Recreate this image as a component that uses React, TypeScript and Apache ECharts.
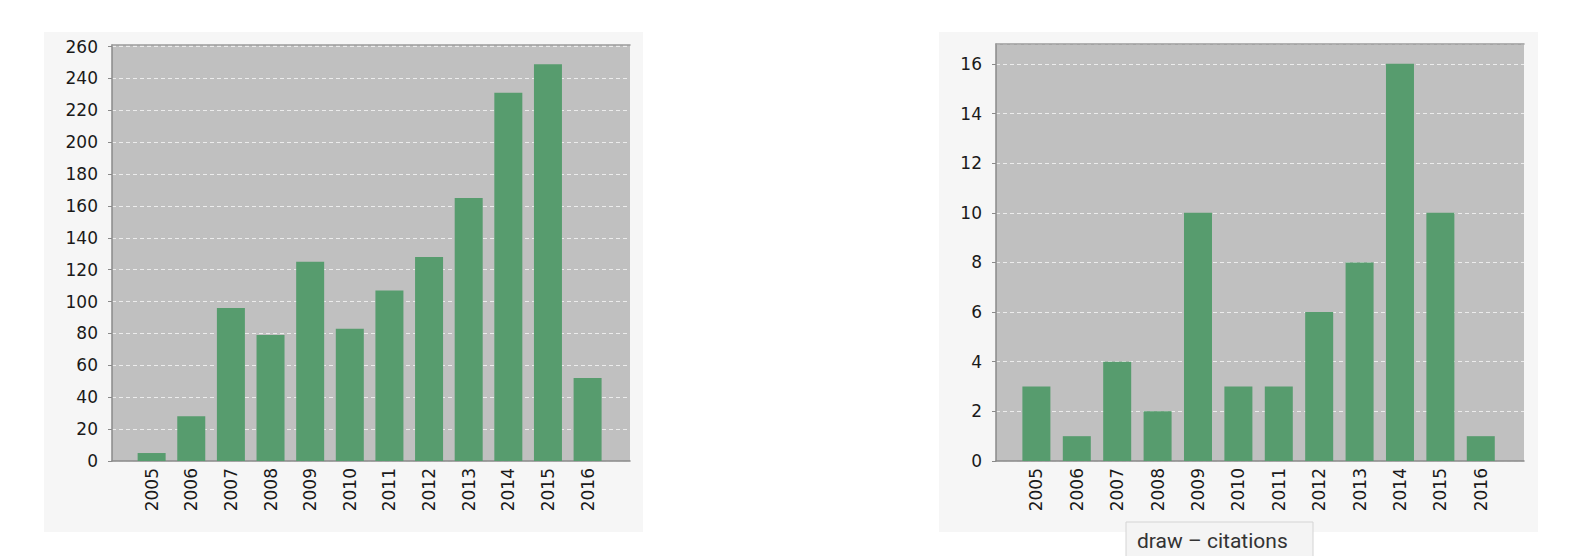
import React, { useEffect, useRef } from 'react';
import * as echarts from 'echarts';

const years = ['2005', '2006', '2007', '2008', '2009', '2010', '2011', '2012', '2013', '2014', '2015', '2016'];
const publications = [5, 28, 96, 79, 125, 83, 107, 128, 165, 231, 249, 52];
const citations = [3, 1, 4, 2, 10, 3, 3, 6, 8, 16, 10, 1];
const tooltipLabel = 'draw – citations';

const PLOT_BG = '#c0c0c0';
const PANEL_BG = '#f6f6f6';
const BAR = '#579c6e';
const AXIS = '#8a8a8a';
const LABEL_FONT = '"DejaVu Sans", sans-serif';

function xAxes(gridIndex: number) {
  return [
    {
      type: 'value' as const,
      gridIndex,
      min: -1,
      max: 12.07,
      interval: 1,
      axisLine: { show: true, onZero: false, lineStyle: { color: AXIS, width: 1.5 } },
      axisTick: { show: false },
      splitLine: { show: false },
      axisLabel: {
        rotate: 90,
        margin: 7,
        fontSize: 17,
        fontFamily: LABEL_FONT,
        color: '#1a1a1a',
        formatter: (v: number) => (Number.isInteger(v) && years[v] ? years[v] : ''),
      },
    },
    {
      type: 'value' as const,
      gridIndex,
      position: 'top' as const,
      min: -1,
      max: 12.07,
      axisLine: { show: true, onZero: false, lineStyle: { color: '#9a9a9a', width: 1.5 } },
      axisTick: { show: false },
      axisLabel: { show: false },
      splitLine: { show: false },
    },
  ];
}

function yAxis(gridIndex: number, max: number, interval: number) {
  return {
    type: 'value' as const,
    gridIndex,
    min: 0,
    max,
    interval,
    axisLine: { show: true, onZero: false, lineStyle: { color: AXIS, width: 1.5 } },
    axisTick: { show: true, length: 4, lineStyle: { color: AXIS } },
    axisLabel: {
      margin: 14,
      fontSize: 17,
      fontFamily: LABEL_FONT,
      color: '#1a1a1a',
      showMaxLabel: false,
    },
    splitLine: {
      show: true,
      lineStyle: { color: '#ececec', type: [4, 3] as number[], width: 1 },
    },
  };
}

export default function App() {
  const chartRef = useRef<HTMLDivElement>(null);

  useEffect(() => {
    document.body.style.margin = '0';
    if (!chartRef.current) return;
    const chart = echarts.init(chartRef.current, undefined, { renderer: 'svg' });

    chart.setOption({
      animation: false,
      backgroundColor: '#ffffff',
      graphic: [
        { type: 'rect', z: -10, shape: { x: 44, y: 32, width: 599, height: 500 }, style: { fill: PANEL_BG } },
        { type: 'rect', z: -10, shape: { x: 939, y: 32, width: 599, height: 500 }, style: { fill: PANEL_BG } },
        {
          type: 'group',
          z: 100,
          children: [
            {
              type: 'rect',
              shape: { x: 1126, y: 522, width: 187, height: 44 },
              style: { fill: '#f4f4f4', stroke: '#d4d4d4', lineWidth: 1 },
            },
            {
              type: 'text',
              x: 1137,
              y: 541,
              style: {
                text: tooltipLabel,
                fill: '#333',
                font: '21px Roboto, "Noto Sans", sans-serif',
                verticalAlign: 'middle',
              },
            },
          ],
        },
      ],
      grid: [
        { left: 112, right: 960, top: 45, bottom: 95, show: true, backgroundColor: PLOT_BG, borderWidth: 0 },
        { left: 996, right: 66, top: 44, bottom: 95, show: true, backgroundColor: PLOT_BG, borderWidth: 0 },
      ],
      xAxis: [...xAxes(0), ...xAxes(1)],
      yAxis: [yAxis(0, 261, 20), yAxis(1, 16.8, 2)],
      series: [
        {
          type: 'bar',
          xAxisIndex: 0,
          yAxisIndex: 0,
          barWidth: 28,
          itemStyle: { color: BAR },
          data: publications.map((v, i) => [i, v]),
        },
        {
          type: 'bar',
          xAxisIndex: 2,
          yAxisIndex: 1,
          barWidth: 28,
          itemStyle: { color: BAR },
          data: citations.map((v, i) => [i, v]),
        },
      ],
    });

    return () => {
      chart.dispose();
    };
  }, []);

  return <div ref={chartRef} style={{ width: '1590px', height: '556px' }} />;
}
